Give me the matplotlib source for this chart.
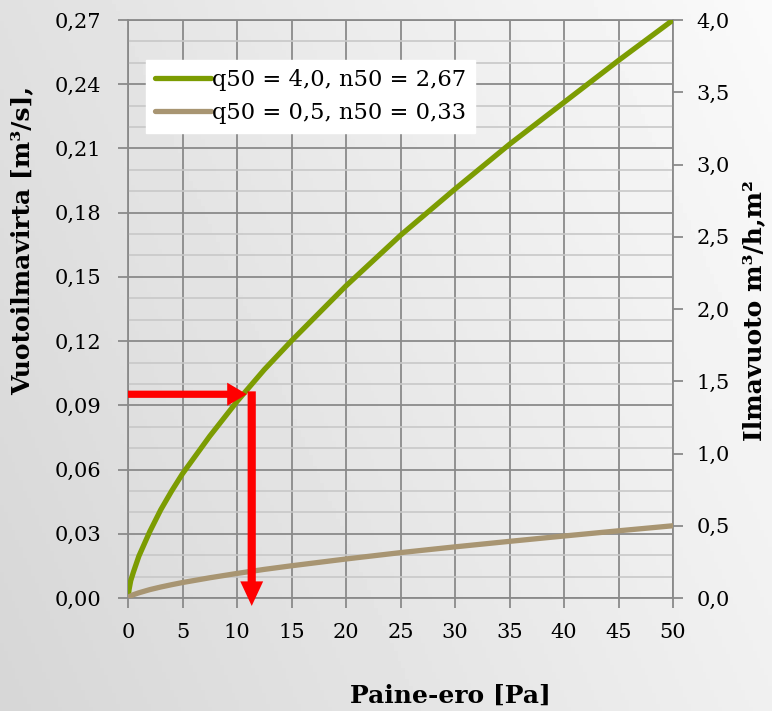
import numpy as np
import matplotlib
matplotlib.use('Agg')
import matplotlib.pyplot as plt
from matplotlib.ticker import MultipleLocator, FuncFormatter
from matplotlib.patches import FancyArrow

# values (right axis units, m3/h,m2)
paine = [0, 0.1, 0.25, 0.5, 1, 2, 3, 4, 5, 7.5, 10, 12.5, 15, 20, 25, 30, 35, 40, 45, 50]
vuoto_a = [0, 0.06, 0.12, 0.18, 0.29, 0.46, 0.61, 0.74, 0.86, 1.12, 1.36, 1.58, 1.78,
           2.16, 2.51, 2.83, 3.14, 3.43, 3.72, 4.0]
vuoto_b = [0, 0.008, 0.014, 0.023, 0.036, 0.058, 0.076, 0.092, 0.107, 0.14, 0.17, 0.198,
           0.223, 0.27, 0.314, 0.354, 0.392, 0.429, 0.465, 0.5]
labels = ['q50 = 4,0, n50 = 2,67', 'q50 = 0,5, n50 = 0,33']
arrow_x = 11.0
arrow_y = 1.41

GREEN = '#7C9C02'
TAN = '#A89572'
GRIDC = '#8A8A8A'

plt.rcParams['font.family'] = 'DejaVu Serif'

fig = plt.figure(figsize=(7.72, 7.11), dpi=100)

# grey gradient background
bg = fig.add_axes([0, 0, 1, 1], zorder=-10)
gx, gy = np.meshgrid(np.linspace(0, 1, 200), np.linspace(0, 1, 200))
shade = 0.84 + 0.10 * gx + 0.04 * gy
bg.imshow(shade, cmap='gray', vmin=0, vmax=1, origin='lower', aspect='auto',
          extent=[0, 1, 0, 1])
bg.axis('off')

ax = fig.add_axes([128/772, 1-598/711, 545/772, 578/711])
ax.patch.set_alpha(0)
ax.set_xlim(0, 50)
ax.set_ylim(0, 0.27)
ax.xaxis.set_major_locator(MultipleLocator(5))
ax.yaxis.set_major_locator(MultipleLocator(0.03))
ax.yaxis.set_minor_locator(MultipleLocator(0.01))
ax.yaxis.set_major_formatter(FuncFormatter(lambda v, p: f'{v:.2f}'.replace('.', ',')))
ax.grid(which='major', color=GRIDC, lw=1.3)
ax.grid(which='minor', axis='y', color='#C8C8C8', lw=1.2)
ax.tick_params(which='major', direction='out', length=7, width=1.3, color=GRIDC,
               labelsize=15)
ax.tick_params(axis='y', pad=12)
ax.tick_params(which='minor', length=0)
ax.tick_params(axis='x', pad=11)
for s in ax.spines.values():
    s.set_color(GRIDC)
    s.set_linewidth(1.3)
ax.set_axisbelow(True)

ax2 = ax.twinx()
ax2.set_ylim(0, 4.0)
ax2.yaxis.set_major_locator(MultipleLocator(0.5))
ax2.yaxis.set_major_formatter(FuncFormatter(lambda v, p: f'{v:.1f}'.replace('.', ',')))
ax2.tick_params(direction='out', length=7, width=1.3, color=GRIDC, labelsize=15, pad=10)
for s in ax2.spines.values():
    s.set_visible(False)

l1, = ax2.plot(paine, vuoto_a, color=GREEN, lw=3.8, solid_capstyle='round', label=labels[0])
l2, = ax2.plot(paine, vuoto_b, color=TAN, lw=3.8, solid_capstyle='round', label=labels[1])

# red reading arrows
ax2.add_patch(FancyArrow(0, arrow_y, arrow_x - 0.1, 0, width=0.05, head_width=0.16,
                         head_length=1.8, length_includes_head=True, color='red',
                         lw=0, zorder=5))
ax2.add_patch(FancyArrow(arrow_x + 0.35, arrow_y + 0.02, 0, -arrow_y - 0.075, width=0.75,
                         head_width=2.1, head_length=0.17, length_includes_head=True,
                         color='red', lw=0, zorder=5, clip_on=False))

leg = ax2.legend(handles=[l1, l2], loc='upper left', bbox_to_anchor=(18/545, 1-40/578),
                 fontsize=16.3, frameon=True, fancybox=False, handlelength=2.45,
                 handletextpad=0.05, borderpad=0.4, labelspacing=0.5, borderaxespad=0)
leg.get_frame().set_facecolor('white')
leg.get_frame().set_edgecolor('white')
leg.get_frame().set_alpha(1)

fig.text(22/772, 1-241/711, 'Vuotoilmavirta [m³/s],', rotation=90, fontsize=18,
         fontweight='bold', ha='center', va='center')
fig.text(754/772, 1-311/711, 'Ilmavuoto m³/h,m²', rotation=90, fontsize=18,
         fontweight='bold', ha='center', va='center')
fig.text(450/772, 1-696/711, 'Paine-ero [Pa]', fontsize=18, fontweight='bold',
         ha='center', va='center')

fig.savefig('out.png', dpi=100)
